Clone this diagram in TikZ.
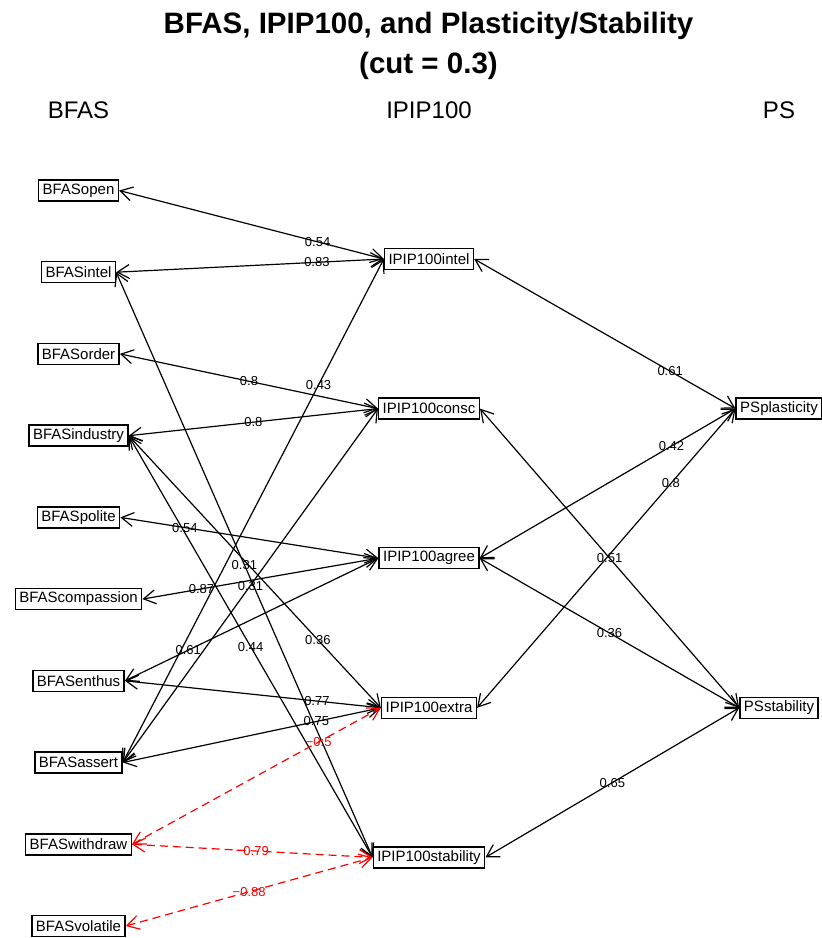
\documentclass[tikz,border=0pt]{standalone}
\usepackage{fontspec}
\setmainfont{Liberation Sans}
\usetikzlibrary{arrows.meta}
\tikzset{
  varbox/.style={draw, line width=1.5pt, inner xsep=4pt, inner ysep=0pt,
    minimum height=21pt, font=\fontsize{15}{15}\selectfont},
  edge/.style={line width=1.2pt,
    {Straight Barb[length=12pt,width=14pt]}-{Straight Barb[length=12pt,width=14pt]}},
  negedge/.style={edge, red, dash pattern=on 8pt off 5pt},
  lab/.style={inner sep=0pt, font=\fontsize{13}{13}\selectfont},
  neglab/.style={lab, text=red},
  header/.style={anchor=base, font=\fontsize{24}{24}\selectfont},
  titletext/.style={anchor=base, font=\fontsize{29.5}{29.5}\bfseries\selectfont}
}
\begin{document}
\begin{tikzpicture}[x=1pt,y=-1pt]
\useasboundingbox (0,0) rectangle (822,938);

% title and column headers
\node[titletext] (title1) at (428.5,33) {BFAS, IPIP100, and Plasticity/Stability};
\node[titletext] (title2) at (428.5,73) {(cut = 0.3)};
\node[header] (hbfas) at (78.5,118) {BFAS};
\node[header] (hipip) at (429,118) {IPIP100};
\node[header] (hps) at (779,118) {PS};

% BFAS aspects
\node[varbox] (open)     at (78.5,190.5) {BFASopen};
\node[varbox] (bintel)   at (78.5,272.2) {BFASintel};
\node[varbox] (order)    at (78.5,353.9) {BFASorder};
\node[varbox] (industry) at (78.5,435.7) {BFASindustry};
\node[varbox] (polite)   at (78.5,517.4) {BFASpolite};
\node[varbox] (compass)  at (78.5,599.1) {BFAScompassion};
\node[varbox] (enthus)   at (78.5,680.8) {BFASenthus};
\node[varbox] (assert)   at (78.5,762.5) {BFASassert};
\node[varbox] (withdraw) at (78.5,844.3) {BFASwithdraw};
\node[varbox] (volatile) at (78.5,926.0) {BFASvolatile};

% IPIP100 scales
\node[varbox] (iintel)  at (429,259.0) {IPIP100intel};
\node[varbox] (iconsc)  at (429,408.6) {IPIP100consc};
\node[varbox] (iagree)  at (429,558.2) {IPIP100agree};
\node[varbox] (iextra)  at (429,707.8) {IPIP100extra};
\node[varbox] (istab)   at (429,857.4) {IPIP100stability};

% Plasticity / Stability
\node[varbox] (psplast) at (779,408.6) {PSplasticity};
\node[varbox] (psstab)  at (779,707.8) {PSstability};

% BFAS -- IPIP100 loadings
\draw[edge] (open.east)     -- node[lab,pos=0.75] {0.54} (iintel.west);
\draw[edge] (bintel.east)   -- node[lab,pos=0.75] {0.83} (iintel.west);
\draw[edge] (order.east)    -- node[lab,pos=0.5]  {0.8}  (iconsc.west);
\draw[edge] (industry.east) -- node[lab,pos=0.5]  {0.8}  (iconsc.west);
\draw[edge] (polite.east)   -- node[lab,pos=0.25] {0.54} (iagree.west);
\draw[edge] (compass.east)  -- node[lab,pos=0.25] {0.87} (iagree.west);
\draw[edge] (enthus.east)   -- node[lab,pos=0.25] {0.61} (iagree.west);
\draw[edge] (enthus.east)   -- node[lab,pos=0.75] {0.77} (iextra.west);
\draw[edge] (assert.east)   -- node[lab,pos=0.75] {0.75} (iextra.west);
\draw[edge] (assert.east)   -- node[lab,pos=0.75] {0.43} (iintel.west);
\draw[edge] (assert.east)   -- node[lab,pos=0.5]  {0.31} (iconsc.west);
\draw[edge] (bintel.east)   -- node[lab,pos=0.5]  {0.31} (istab.west);
\draw[edge] (industry.east) -- node[lab,pos=0.5]  {0.44} (istab.west);
\draw[edge] (industry.east) -- node[lab,pos=0.75] {0.36} (iextra.west);
\draw[negedge] (withdraw.east) -- node[neglab,pos=0.75] {−0.5}  (iextra.west);
\draw[negedge] (withdraw.east) -- node[neglab,pos=0.5]  {−0.79} (istab.west);
\draw[negedge] (volatile.east) -- node[neglab,pos=0.5]  {−0.88} (istab.west);

% IPIP100 -- Plasticity/Stability loadings
\draw[edge] (iintel.east) -- node[lab,pos=0.75] {0.61} (psplast.west);
\draw[edge] (iagree.east) -- node[lab,pos=0.75] {0.42} (psplast.west);
\draw[edge] (iextra.east) -- node[lab,pos=0.75] {0.8}  (psplast.west);
\draw[edge] (iconsc.east) -- node[lab,pos=0.5]  {0.51} (psstab.west);
\draw[edge] (iagree.east) -- node[lab,pos=0.5]  {0.36} (psstab.west);
\draw[edge] (istab.east)  -- node[lab,pos=0.5]  {0.65} (psstab.west);
\end{tikzpicture}
\end{document}
